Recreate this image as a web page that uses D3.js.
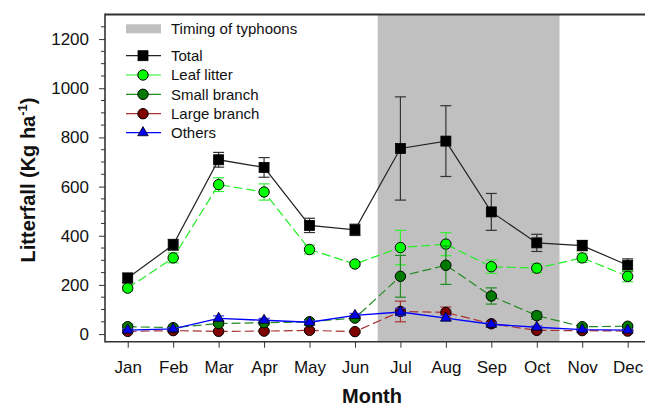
<!DOCTYPE html>
<html>
<head>
<meta charset="utf-8">
<script src="https://cdn.jsdelivr.net/npm/d3@7"></script>
<style>
  html, body { margin: 0; padding: 0; background: #fff; }
  svg { display: block; font-family: "Liberation Sans", Arial, sans-serif; }
</style>
</head>
<body>
<div id="chart"></div>
<script>
const months = ["Jan", "Feb", "Mar", "Apr", "May", "Jun", "Jul", "Aug", "Sep", "Oct", "Nov", "Dec"]
const total = [228, 363, 709, 678, 442, 424, 755, 785, 497, 371, 360, 280]
const totalErr = [20, 22, 30, 40, 29, 23, 210, 144, 75, 35, 21, 26]
const leaf = [187, 310, 608, 578, 344, 285, 352, 366, 274, 268, 310, 235]
const leafErr = [12, 20, 28, 33, 18, 10, 70, 47, 27, 18, 18, 22]
const small = [30, 26, 43, 46, 50, 65, 235, 280, 155, 75, 30, 32]
const smallErr = [10, 6, 8, 8, 8, 8, 85, 78, 33, 15, 6, 6]
const large = [11, 14, 11, 12, 15, 10, 92, 88, 42, 15, 14, 12]
const largeErr = [4, 4, 4, 4, 6, 4, 42, 22, 8, 6, 4, 4]
const others = [16, 21, 64, 56, 48, 76, 90, 65, 40, 28, 18, 16]
const othersErr = [5, 5, 10, 8, 6, 8, 15, 10, 6, 5, 4, 4]
const typhoonMonths = [7, 10]
const yMajor = [0, 200, 400, 600, 800, 1000, 1200]

const width = 645, height = 409
const marginLeft = 105, marginTop = 14.5, plotBottom = 341.7

const series = [
  { name: "Total", values: total, err: totalErr, fill: "#000", line: "#222", errColor: "#333", dash: null, shape: "square" },
  { name: "Leaf litter", values: leaf, err: leafErr, fill: "#00ff00", line: "#22ee22", errColor: "#33ee33", dash: "9,4", shape: "circle" },
  { name: "Large branch", values: large, err: largeErr, fill: "#800000", line: "#a83232", errColor: "#a83232", dash: "9,4", shape: "circle" },
  { name: "Small branch", values: small, err: smallErr, fill: "#007a00", line: "#228b22", errColor: "#228b22", dash: "9,4", shape: "circle" },
  { name: "Others", values: others, err: othersErr, fill: "#0000ee", line: "#0000ff", errColor: "#3333ff", dash: null, shape: "triangle" }
]
const legendOrder = ["Total", "Leaf litter", "Small branch", "Large branch", "Others"]

const svg = d3.select("#chart").append("svg")
  .attr("width", width).attr("height", height)
  .attr("viewBox", [0, 0, width, height])

const x = d3.scaleLinear().domain([0.5, 12.5]).range([marginLeft, marginLeft + 12 * 45.45])
const y = d3.scaleLinear().domain([-31, 1300]).range([plotBottom, marginTop])

// typhoon shading
svg.append("rect")
  .attr("x", x(typhoonMonths[0] - 0.5))
  .attr("y", marginTop)
  .attr("width", x(typhoonMonths[1] + 0.5) - x(typhoonMonths[0] - 0.5))
  .attr("height", plotBottom - marginTop)
  .attr("fill", "#c0c0c0")

// y axis
const yAxis = svg.append("g").attr("transform", `translate(${marginLeft},0)`)
yAxis.call(d3.axisLeft(y).tickValues(yMajor).tickFormat(d3.format("d")).tickSize(6).tickPadding(10).tickSizeOuter(0))
yAxis.select(".domain").remove()
yAxis.selectAll("text").attr("font-size", 17).attr("fill", "#111").attr("font-family", "Liberation Sans, Arial")
yAxis.selectAll("line").attr("stroke", "#333")
const minor = d3.range(50, 1300, 50).filter(v => v % 200 !== 0)
yAxis.selectAll(".minor").data(minor).join("line")
  .attr("x1", -4).attr("x2", 0)
  .attr("y1", d => y(d)).attr("y2", d => y(d))
  .attr("stroke", "#333")

// x axis
const xAxis = svg.append("g").attr("transform", `translate(0,${plotBottom})`)
xAxis.call(d3.axisBottom(x).tickValues(d3.range(1, 13)).tickFormat(d => months[d - 1]).tickSize(6).tickPadding(13).tickSizeOuter(0))
xAxis.select(".domain").remove()
xAxis.selectAll("text").attr("font-size", 17).attr("fill", "#111").attr("font-family", "Liberation Sans, Arial")
xAxis.selectAll("line").attr("stroke", "#333")

// frame lines
svg.append("line").attr("x1", marginLeft).attr("x2", width).attr("y1", plotBottom).attr("y2", plotBottom)
  .attr("stroke", "#333").attr("stroke-width", 1.6)
svg.append("line").attr("x1", marginLeft).attr("x2", width).attr("y1", marginTop).attr("y2", marginTop)
  .attr("stroke", "#333").attr("stroke-width", 1.8)
svg.append("line").attr("x1", marginLeft).attr("x2", marginLeft).attr("y1", marginTop - 0.9).attr("y2", plotBottom + 0.8)
  .attr("stroke", "#333").attr("stroke-width", 1.6)

const drawMarker = (g, shape, fill, cx, cy) => {
  if (shape === "square") {
    g.append("rect").attr("x", cx - 5).attr("y", cy - 5).attr("width", 10).attr("height", 10)
      .attr("fill", fill).attr("stroke", "#000").attr("stroke-width", 0.8)
  } else if (shape === "circle") {
    g.append("circle").attr("cx", cx).attr("cy", cy).attr("r", 5.2)
      .attr("fill", fill).attr("stroke", "#000").attr("stroke-width", 1)
  } else {
    g.append("path").attr("d", d3.symbol(d3.symbolTriangle, 48)())
      .attr("transform", `translate(${cx},${cy})`)
      .attr("fill", fill).attr("stroke", "#000").attr("stroke-width", 0.8)
  }
}

const line = d3.line().x((d, i) => x(i + 1)).y(d => y(d))

series.forEach(s => {
  const g = svg.append("g")
  g.append("path").datum(s.values).attr("d", line)
    .attr("fill", "none").attr("stroke", s.line).attr("stroke-width", s.name === "Others" ? 1.4 : 1.2)
    .attr("stroke-dasharray", s.dash)
  s.values.forEach((v, i) => {
    const cx = x(i + 1), e = s.err[i]
    g.append("line").attr("x1", cx).attr("x2", cx).attr("y1", y(v - e)).attr("y2", y(v + e))
      .attr("stroke", s.errColor).attr("stroke-width", 1.2)
    ;[v - e, v + e].forEach(b => {
      g.append("line").attr("x1", cx - 5.5).attr("x2", cx + 5.5).attr("y1", y(b)).attr("y2", y(b))
        .attr("stroke", s.errColor).attr("stroke-width", 1.2)
    })
  })
  s.values.forEach((v, i) => drawMarker(g, s.shape, s.fill, x(i + 1), y(v)))
})

// legend
const legend = svg.append("g")
legend.append("rect").attr("x", 126).attr("y", 24.3).attr("width", 35).attr("height", 9).attr("fill", "#c0c0c0")
legend.append("text").attr("x", 171).attr("y", 28.3).attr("dy", "0.35em")
  .attr("font-size", 15).attr("fill", "#111").text("Timing of typhoons")
const rowsY = [55.7, 75, 94.3, 113.7, 132.7]
legendOrder.forEach((name, k) => {
  const s = series.find(d => d.name === name)
  const ly = rowsY[k]
  const row = legend.append("g")
  row.append("line").attr("x1", 126).attr("x2", 161).attr("y1", ly).attr("y2", ly)
    .attr("stroke", s.line).attr("stroke-width", 1.2)
  drawMarker(row, s.shape, s.fill, 143, ly)
  row.append("text").attr("x", 171).attr("y", ly).attr("dy", "0.35em")
    .attr("font-size", 15).attr("fill", "#111").text(name)
})

// axis titles
svg.append("text").attr("x", 372).attr("y", 403)
  .attr("text-anchor", "middle").attr("font-size", 20).attr("font-weight", "bold").attr("fill", "#111")
  .text("Month")
const yt = svg.append("text").attr("transform", "translate(35,180) rotate(-90)")
  .attr("text-anchor", "middle").attr("font-size", 20).attr("font-weight", "bold").attr("fill", "#111")
yt.append("tspan").text("Litterfall (Kg ha")
yt.append("tspan").attr("font-size", 13).attr("dy", -8).text("-1")
yt.append("tspan").attr("dy", 8).text(")")
</script>
</body>
</html>
